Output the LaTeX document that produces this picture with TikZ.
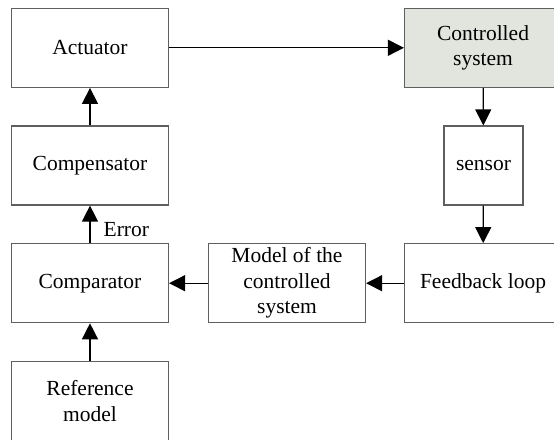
\documentclass[tikz,border=0pt]{standalone}
\usepackage{fontspec}
\setmainfont{Liberation Serif}
\usetikzlibrary{arrows.meta}
\definecolor{plantfill}{RGB}{225,229,221}
\definecolor{boxline}{RGB}{95,95,95}
\begin{document}
\begin{tikzpicture}[x=1pt, y=-1pt, font=\fontsize{21.5}{25.5}\selectfont,
  box/.style = {draw=boxline, line width=1.2pt, minimum width=157pt,
    minimum height=79pt, align=center, inner sep=0pt},
  link/.style = {line width=1.3pt, -{Triangle[length=16pt,width=16pt]}}]
  \useasboundingbox (0,0) rectangle (554,439);
  \node[box] (act) at (90,47.8) {Actuator};
  \node[box, fill=plantfill] (plant) at (483,47.8) {Controlled\\system};
  \node[box] (comp) at (90,165.5) {Compensator};
  \node[box, minimum width=79pt] (sens) at (483.5,165.5) {sensor};
  \node[box] (cmpr) at (90,283.2) {Comparator};
  \node[box] (model) at (287,283.2) {Model of the\\controlled\\system};
  \node[box] (fb) at (483,283.2) {Feedback loop};
  \node[box] (ref) at (90,400.9) {Reference\\model};

  \draw[link] (act) -- (plant);
  \draw[link] (plant) -- (sens);
  \draw[link] (sens) -- (fb);
  \draw[link] (fb) -- (model);
  \draw[link] (model) -- (cmpr);
  \draw[link] (ref) -- (cmpr);
  \draw[link] (cmpr) -- node[pos=0.35, right=11pt, inner sep=2pt] {Error} (comp);
  \draw[link] (comp) -- (act);
\end{tikzpicture}
\end{document}
